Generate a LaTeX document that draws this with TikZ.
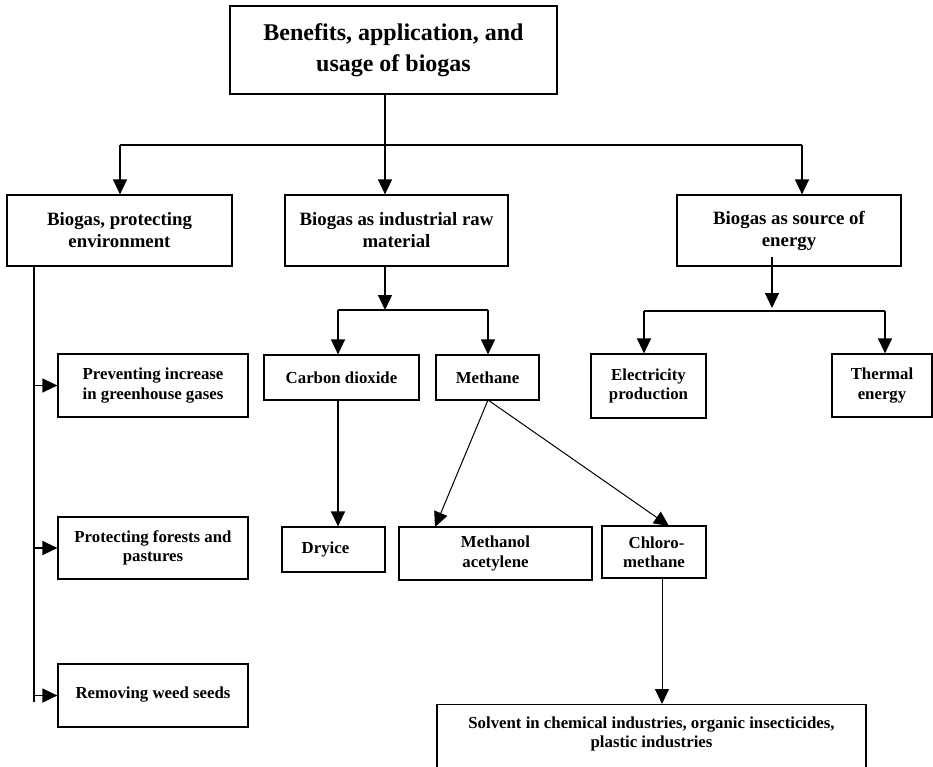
\documentclass[tikz,border=0pt]{standalone}
\usepackage{fontspec}
\setmainfont{Liberation Serif}
\usetikzlibrary{arrows.meta}
\begin{document}
\begin{tikzpicture}[x=1pt,y=-1pt,
  box/.style={draw, line width=1.2pt, inner sep=2pt, align=center,
    font=\bfseries\fontsize{16.8}{19.5}\selectfont},
  bigbox/.style={box, font=\bfseries\fontsize{18.8}{22}\selectfont},
  topbox/.style={box, font=\bfseries\fontsize{24}{31}\selectfont},
  conn/.style={line width=1.3pt},
  thin/.style={line width=1pt},
  arr/.style={-{Triangle[width=14pt,length=15pt]}}]
\useasboundingbox (0,0) rectangle (933,766);
\clip (0,0) rectangle (933,766);

% boxes
\node[topbox, minimum width=327, minimum height=88] (top) at (393.5,50) {Benefits, application, and\\ usage of biogas};
\node[bigbox, minimum width=225, minimum height=71] (env) at (119.5,230.5) {Biogas, protecting\\ environment};
\node[bigbox, minimum width=223, minimum height=71] (ind) at (396.5,230.5) {Biogas as industrial raw\\ material};
\node[bigbox, minimum width=224, minimum height=71] (ene) at (789,230.5) {Biogas as source of\\ energy};

\node[box, minimum width=190, minimum height=63] (prev) at (153,385.5) {Preventing increase\\ in greenhouse gases};
\node[box, minimum width=190, minimum height=62] (forest) at (153,548) {Protecting forests and\\ pastures};
\node[box, minimum width=190, minimum height=63] (weed) at (153,695.5) {\raisebox{5pt}{Removing weed seeds}};

\node[box, minimum width=155, minimum height=45] (co2) at (341.5,377.5) {Carbon dioxide};
\node[box, minimum width=103, minimum height=45] (meth) at (487.5,377.5) {Methane};
\node[box, minimum width=103, minimum height=45] (dry) at (333.5,549.5) {Dryice\hspace{16pt}};
\node[box, minimum width=193, minimum height=53] (mac) at (495.5,553.5) {Methanol\\ acetylene};
\node[box, minimum width=104, minimum height=52] (chl) at (654,552) {\hspace{5pt}Chloro-\\ methane};
\node[box, minimum width=115, minimum height=64] (elec) at (648.5,386) {Electricity\\ production};
\node[box, minimum width=100, minimum height=63] (therm) at (882,385.5) {Thermal\\ energy};
\node[box, anchor=north, minimum width=429, inner ysep=12pt, text depth=40pt] (solv) at (651.5,704) {Solvent in chemical industries, organic insecticides,\\ plastic industries};

% top level connectors
\coordinate (hub) at (385,145);
\coordinate (hl) at (120,145);
\coordinate (hr) at (802,145);
\draw[conn] (top.south -| hub) -- (hub);
\draw[conn] (hl) -- (hr);
\draw[conn,arr] (hl) -- (hl |- env.north);
\draw[conn,arr] (hub) -- (hub |- ind.north);
\draw[conn,arr] (hr) -- (hr |- ene.north);

% environment branch
\coordinate (el) at (34,702);
\draw[conn] (env.south -| el) -- (el);
\draw[conn,arr] (prev.west -| el) -- (prev.west);
\draw[conn,arr] (forest.west -| el) -- (forest.west);
\draw[conn,arr] (weed.west -| el) -- (weed.west);

% industrial branch
\coordinate (ih) at (385,310);
\coordinate (ihl) at (338,310);
\coordinate (ihr) at (488,310);
\draw[conn,arr] (ind.south -| ih) -- (ih);
\draw[conn] (ihl) -- (ihr);
\draw[conn,arr] (ihl) -- (ihl |- co2.north);
\draw[conn,arr] (ihr) -- (ihr |- meth.north);
\draw[conn,arr] (co2.south -| ihl) -- (ihl |- dry.north);
\coordinate (ms) at (488,400);
\coordinate (mact) at (435,527);
\coordinate (chlt) at (669,526);
\draw[thin,arr] (ms) -- (mact);
\draw[thin,arr] (ms) -- (chlt);
\coordinate (cx) at (662,600);
\draw[thin,arr] (chl.south -| cx) -- (cx |- solv.north);

% energy branch
\coordinate (es) at (772,257);
\coordinate (eh) at (772,308);
\coordinate (ehl) at (644,311);
\coordinate (ehr) at (885,311);
\draw[conn,arr] (es) -- (eh);
\draw[conn] (ehl) -- (ehr);
\draw[conn,arr] (ehl) -- (ehl |- elec.north);
\draw[conn,arr] (ehr) -- (ehr |- therm.north);
\end{tikzpicture}
\end{document}
